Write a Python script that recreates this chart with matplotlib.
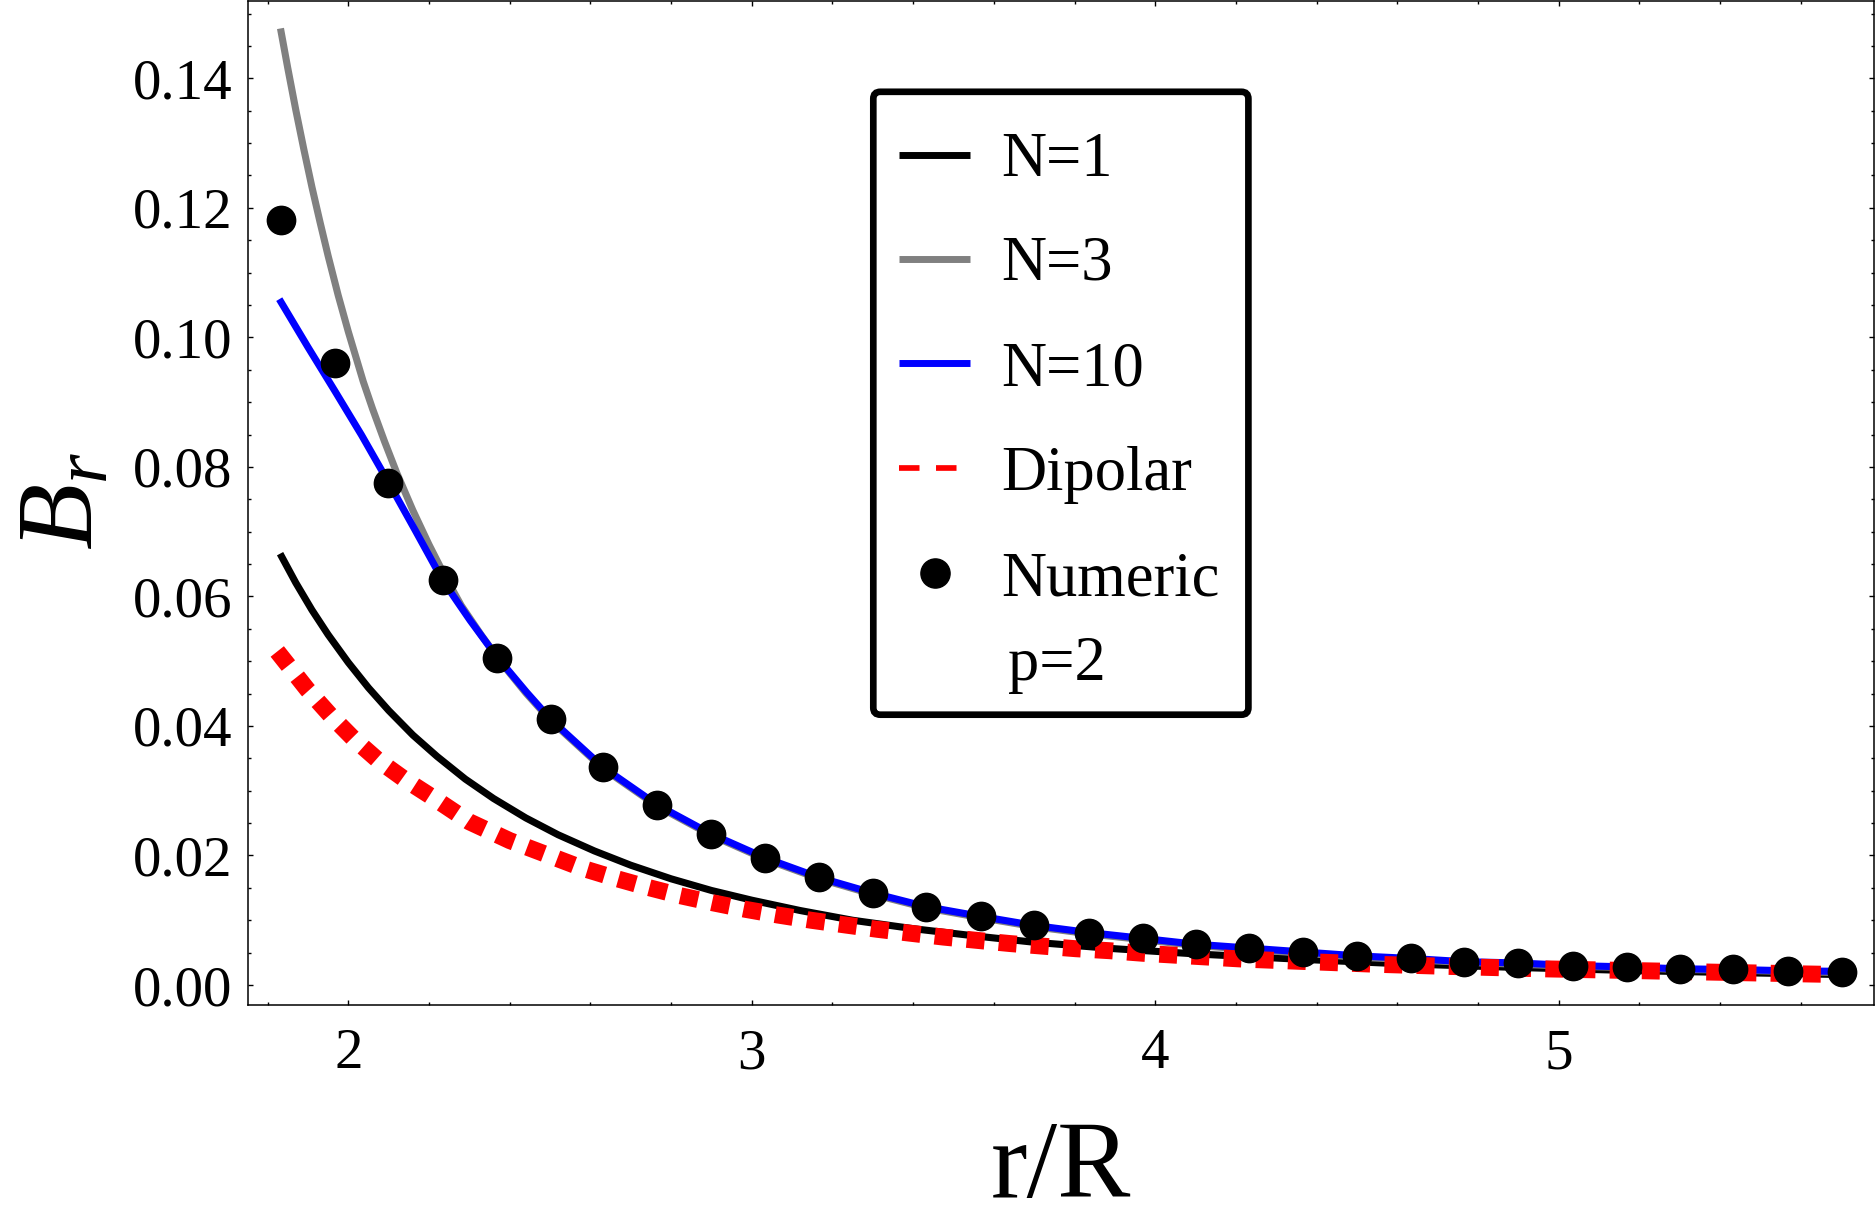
import matplotlib
matplotlib.use('Agg')
import matplotlib.pyplot as plt
from matplotlib.patches import FancyBboxPatch
from matplotlib.lines import Line2D
from matplotlib.ticker import MultipleLocator, FixedLocator, FixedFormatter

# ---------------- data ----------------
r_N1 = [1.831, 1.870, 1.910, 1.950, 2.000, 2.050, 2.100, 2.160, 2.220, 2.290, 2.360,
        2.440, 2.520, 2.610, 2.700, 2.800, 2.900, 3.000, 3.120, 3.250, 3.400, 3.550,
        3.700, 3.900, 4.100, 4.350, 4.600, 4.900, 5.200, 5.450, 5.710]
B_N1 = [0.0666, 0.0621, 0.0579, 0.0541, 0.0498, 0.0459, 0.0424, 0.0386, 0.0353, 0.0318, 0.0288,
        0.0258, 0.0232, 0.0207, 0.0185, 0.0164, 0.0146, 0.0131, 0.0115, 0.0100, 0.0087, 0.0076,
        0.0066, 0.0056, 0.0048, 0.0040, 0.0033, 0.0027, 0.0022, 0.0019, 0.0016]

r_N3 = [1.832, 1.850, 1.870, 1.890, 1.910, 1.930, 1.950, 1.975, 2.000, 2.037, 2.060,
        2.090, 2.120, 2.160, 2.200, 2.240, 2.280, 2.330, 2.380, 2.440, 2.502, 2.632,
        2.766, 2.900, 3.034, 3.167, 3.300, 3.432, 3.567, 3.700, 3.836, 3.969, 4.100,
        4.233, 4.367, 4.501, 4.634, 4.766, 4.900, 5.035, 5.168, 5.300, 5.432, 5.567, 5.710]
B_N3 = [0.1477, 0.1416, 0.1351, 0.1290, 0.1232, 0.1178, 0.1126, 0.1065, 0.1009, 0.0932, 0.0890,
        0.0839, 0.0791, 0.0733, 0.0680, 0.0631, 0.0586, 0.0540, 0.0497, 0.0451, 0.0408, 0.0334,
        0.0276, 0.0231, 0.0194, 0.0164, 0.0140, 0.0119, 0.0104, 0.0090, 0.0079, 0.0070, 0.0061,
        0.0055, 0.0049, 0.0043, 0.0039, 0.0035, 0.0032, 0.0029, 0.0027, 0.0024, 0.0023, 0.0021, 0.0019]

r_N10 = [1.829, 1.900, 1.967, 2.033, 2.099, 2.166, 2.234, 2.270, 2.302, 2.335, 2.368,
         2.442, 2.502, 2.632, 2.766, 2.900, 3.034, 3.167, 3.300, 3.432, 3.567, 3.700,
         3.836, 3.969, 4.100, 4.233, 4.367, 4.501, 4.634, 4.766, 4.900, 5.035, 5.168,
         5.300, 5.432, 5.567, 5.710]
B_N10 = [0.1059, 0.0985, 0.0917, 0.0849, 0.0777, 0.0702, 0.0625, 0.0592, 0.0563, 0.0535, 0.0507,
         0.0452, 0.0410, 0.0336, 0.0278, 0.0233, 0.0196, 0.0166, 0.0142, 0.0121, 0.0106, 0.0092,
         0.0081, 0.0072, 0.0063, 0.0057, 0.0051, 0.0045, 0.0041, 0.0036, 0.0034, 0.0030, 0.0028,
         0.0025, 0.0024, 0.0022, 0.0021]

r_dip = [1.824, 1.899, 1.955, 2.012, 2.074, 2.141, 2.211, 2.300, 2.400, 2.506, 2.582,
         2.661, 2.741, 2.822, 2.903, 2.983, 3.065, 3.147, 3.228, 3.311, 3.392, 3.475,
         3.557, 3.640, 3.721, 3.804, 3.886, 3.969, 4.051, 4.134, 4.217, 4.299, 4.382,
         4.465, 4.547, 4.711, 4.959, 5.127, 5.372, 5.620, 5.710]
B_dip = [0.0515, 0.0456, 0.0417, 0.0381, 0.0347, 0.0317, 0.0289, 0.0252, 0.0223, 0.0198, 0.0180,
         0.0165, 0.0151, 0.0138, 0.0127, 0.0117, 0.0108, 0.0100, 0.0093, 0.0086, 0.0080, 0.0074,
         0.0069, 0.0064, 0.0060, 0.0056, 0.0053, 0.0049, 0.0046, 0.0043, 0.0040, 0.0038, 0.0036,
         0.0034, 0.0032, 0.0029, 0.0025, 0.0023, 0.0020, 0.0017, 0.0016]

r_num = [1.834, 1.967, 2.099, 2.234, 2.368, 2.502, 2.632, 2.766, 2.900, 3.034,
         3.167, 3.300, 3.432, 3.567, 3.700, 3.836, 3.969, 4.100, 4.233, 4.367,
         4.501, 4.634, 4.766, 4.900, 5.035, 5.168, 5.300, 5.432, 5.567, 5.701]
B_num = [0.1181, 0.0960, 0.0775, 0.0625, 0.0505, 0.0410, 0.0336, 0.0278, 0.0233, 0.0196,
         0.0166, 0.0142, 0.0121, 0.0106, 0.0092, 0.0081, 0.0072, 0.0063, 0.0057, 0.0051,
         0.0045, 0.0041, 0.0036, 0.0034, 0.0030, 0.0028, 0.0025, 0.0024, 0.0022, 0.0020]

x_ticks = [2, 3, 4, 5]
x_ticklabels = ['2', '3', '4', '5']
y_ticks = [0.00, 0.02, 0.04, 0.06, 0.08, 0.10, 0.12, 0.14]
y_ticklabels = ['0.00', '0.02', '0.04', '0.06', '0.08', '0.10', '0.12', '0.14']

legend_labels = ['N=1', 'N=3', 'N=10', 'Dipolar', 'Numeric', 'p=2']

# ---------------- style ----------------
W, H, DPI = 1875, 1219, 100
plt.rcParams['font.family'] = ['Liberation Serif', 'DejaVu Serif']
plt.rcParams['mathtext.fontset'] = 'custom'
plt.rcParams['mathtext.rm'] = 'Liberation Serif'
plt.rcParams['mathtext.it'] = 'Liberation Serif:italic'

C_BLACK = '#000000'
C_GRAY = '#808080'
C_BLUE = '#0000ff'
C_RED = '#ff0000'

fig = plt.figure(figsize=(W / DPI, H / DPI), dpi=DPI)
L, R, T, B = 248.0, 1873.5, 0.8, 1004.5
ax = fig.add_axes([L / W, 1 - B / H, (R - L) / W, (B - T) / H])

ax.set_xlim(1.7515, 5.780)
ax.set_ylim(-0.00301, 0.15197)

lw = 5.1
ax.plot(r_N1, B_N1, color=C_BLACK, lw=lw, solid_capstyle='butt',
        solid_joinstyle='round', zorder=2)
ax.plot(r_N3, B_N3, color=C_GRAY, lw=lw, solid_capstyle='butt',
        solid_joinstyle='round', zorder=3)
ax.plot(r_N10, B_N10, color=C_BLUE, lw=lw, solid_capstyle='butt',
        solid_joinstyle='round', zorder=4)
ax.plot(r_dip, B_dip, color=C_RED, lw=12.2, dashes=(1.06, 0.84),
        dash_capstyle='butt', zorder=5)
ax.plot(r_num, B_num, linestyle='none', marker='o', ms=20.4,
        color=C_BLACK, mec=C_BLACK, zorder=6)

ax.xaxis.set_major_locator(FixedLocator(x_ticks))
ax.xaxis.set_major_formatter(FixedFormatter(x_ticklabels))
ax.xaxis.set_minor_locator(MultipleLocator(0.2))
ax.yaxis.set_major_locator(FixedLocator(y_ticks))
ax.yaxis.set_major_formatter(FixedFormatter(y_ticklabels))
ax.yaxis.set_minor_locator(MultipleLocator(0.005))

ax.tick_params(which='both', direction='in', top=True, right=True,
               labeltop=False, labelright=False, width=1.0, color='black')
ax.tick_params(which='major', length=3.3)
ax.tick_params(which='minor', length=2.0)
ax.tick_params(axis='x', which='major', labelsize=41, pad=17)
ax.tick_params(axis='y', which='major', labelsize=41, pad=11.5)
for s in ax.spines.values():
    s.set_linewidth(1.1)

# axis labels
fig.text(1061 / W, 1 - 1197 / H, 'r/R', fontsize=79, ha='center', va='baseline')
fig.text(66 / W, 1 - 501 / H, r'$B_r$', fontsize=78, rotation=90,
         ha='center', va='center')

# ---------------- legend (drawn in pixel coordinates) ----------------
tr = fig.dpi_scale_trans
def P(x, y):
    return x / DPI, (H - y) / DPI

x0, y0 = P(873.3, 714.7)
x1, y1 = P(1248.4, 91.8)
box = FancyBboxPatch((x0, y0), x1 - x0, y1 - y0,
                     boxstyle='round,pad=0,rounding_size=0.07',
                     transform=tr, facecolor='white', edgecolor='black',
                     linewidth=4.8, zorder=10)
fig.patches.append(box)

hx0, hx1 = 899.3, 970.0
rows = [154.5, 258.7, 362.5, 467.7, 572.8]
styles = [dict(color=C_BLACK), dict(color=C_GRAY), dict(color=C_BLUE)]
for yy, st in zip(rows[:3], styles):
    xa, ya = P(hx0, yy)
    xb, yb = P(hx1, yy)
    fig.lines.append(Line2D([xa, xb], [ya, yb], transform=tr, lw=5.0,
                            solid_capstyle='butt', zorder=11, **st))
xa, ya = P(hx0, rows[3])
xb, yb = P(957.4, rows[3])
fig.lines.append(Line2D([xa, xb], [ya, yb], transform=tr, lw=4.1, color=C_RED,
                        dashes=(3.6, 2.9), dash_capstyle='butt', zorder=11))
xm, ym = P(934.7, rows[4])
fig.lines.append(Line2D([xm], [ym], transform=tr, marker='o', ms=21,
                        color=C_BLACK, linestyle='none', zorder=11))

baselines = [176.5, 280.0, 385.0, 490.5, 595.0, 680.0]
lefts = [1001.7, 1001.7, 1001.7, 1001.7, 1001.7, 1008.3]
for lab, yb, xl in zip(legend_labels, baselines, lefts):
    tx, ty = P(xl, yb)
    fig.text(tx, ty, lab, transform=tr, fontsize=45, ha='left',
             va='baseline', zorder=12)

fig.savefig('out.png', dpi=DPI)
